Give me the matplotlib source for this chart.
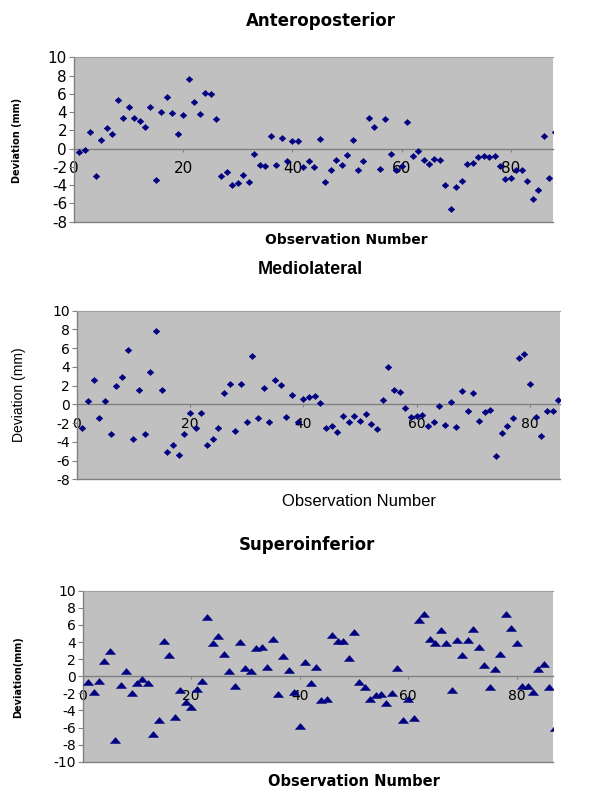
import matplotlib
matplotlib.use("Agg")
import matplotlib.pyplot as plt
import numpy as np

# ---- data ----
ap_values = [-0.37, -0.19, 1.78, -3.03, 0.91, 2.22, 1.57, 5.29, 3.39, 4.56,
             3.39, 3.03, 2.37, 4.56, -3.4, 4.05, 5.65, 3.87, 1.57, 3.65,
             7.66, 5.1, 3.76, 6.13, 5.95, 3.21, -3.03, -2.56, -4.02, -3.76,
             -2.92, -3.65, -0.59, -1.83, -1.94, 1.38, -1.76, 1.13, -1.35, 0.87,
             0.8, -1.97, -1.35, -1.97, 1.1, -3.65, -2.3, -1.2, -1.75, -0.7,
             0.95, -2.3, -1.32, 3.32, 2.41, -2.19, 3.21, -0.59, -2.38, -1.94,
             2.95, -0.77, -0.3, -1.2, -1.65, -1.1, -1.28, -3.95, -6.57, -4.2,
             -3.58, -1.68, -1.57, -0.95, -0.77, -0.91, -0.84, -1.94, -3.36, -3.21,
             -2.34, -2.3, -3.54, -5.55, -4.57, 1.42, -3.18, 1.78]

ml_values = [-2.53, 0.32, 2.6, -1.46, 0.39, -3.13, 1.92, 2.95, 5.8, -3.66,
             1.53, -3.13, 3.49, 7.79, 1.53, -5.09, -4.3, -5.44, -3.13, -0.92,
             -2.53, -0.92, -4.3, -3.74, -2.53, 1.21, 2.2, -2.88, 2.2, -1.89,
             5.2, -1.42, 1.74, -1.85, 2.6, 2.03, -1.35, 0.96, -1.89, 0.53,
             0.75, 0.85, 0.18, -2.56, -2.35, -2.92, -1.25, -1.92, -1.25, -1.78,
             -1.0, -2.1, -2.67, 0.43, 3.95, 1.53, 1.28, -0.36, -1.39, -1.28,
             -1.1, -2.35, -1.89, -0.14, -2.2, 0.21, -2.46, 1.42, -0.68, 1.17,
             -1.78, -0.78, -0.64, -5.51, -3.02, -2.35, -1.46, 5.0, 5.4, 2.17,
             -1.35, -3.35, -0.68, -0.68, 0.5, 1.7]

si_values = [-0.62, -1.79, -0.51, 1.79, 2.92, -7.43, -1.01, 0.62, -1.98, -0.74,
             -0.27, -0.78, -6.73, -5.1, 4.12, 2.45, -4.78, -1.67, -3.07, -3.62,
             -1.52, -0.55, 6.96, 3.89, 4.67, 2.6, 0.62, -1.13, 3.97, 0.97,
             0.62, 3.27, 3.38, 1.09, 4.32, -2.06, 2.41, 0.78, -1.79, -5.8,
             1.67, -0.82, 1.09, -2.8, -2.68, 4.78, 4.12, 4.12, 2.14, 5.21,
             -0.62, -1.21, -2.65, -2.22, -2.14, -3.15, -1.98, 0.97, -5.1, -2.68,
             -4.86, 6.53, 7.31, 4.32, 3.89, 5.37, 3.89, -1.56, 4.2, 2.49,
             4.2, 5.48, 3.38, 1.32, -1.25, 0.86, 2.6, 7.31, 5.6, 3.89,
             -1.13, -1.17, -1.83, 0.86, 1.44, -1.21, -6.03]

x_ticks = [0, 20, 40, 60, 80]
y_ticks_ap = [-8, -6, -4, -2, 0, 2, 4, 6, 8, 10]
y_ticks_ml = [-8, -6, -4, -2, 0, 2, 4, 6, 8, 10]
y_ticks_si = [-10, -8, -6, -4, -2, 0, 2, 4, 6, 8, 10]
titles = ["Anteroposterior", "Mediolateral", "Superoinferior"]

# ---- styles ----
W, H = 600, 800
NAVY = "#000080"
PLOT_BG = "#C0C0C0"
GRAY = "#808080"
diamond = [(-1, 0), (0, 0.9), (1, 0), (0, -0.9), (-1, 0)]
triangle = [(-1, -0.58), (1, -0.58), (0, 0.58), (-1, -0.58)]

fig = plt.figure(figsize=(6, 8), dpi=100)


def px_rect(left, right, top, bottom):
    return [left / W, 1 - bottom / H, (right - left) / W, (bottom - top) / H]


def fx(x):
    return x / W


def fy(y):
    return 1 - y / H


def make_panel(rect, values, yticks, ylim, xmax, marker, msize, tick_fs):
    ax = fig.add_axes(rect)
    ax.set_facecolor(PLOT_BG)
    xs = np.arange(1, len(values) + 1)
    ax.plot(xs, values, linestyle="none", marker=marker, markersize=msize,
            markerfacecolor=NAVY, markeredgecolor=NAVY, markeredgewidth=0.4,
            clip_on=True, zorder=3)
    ax.set_xlim(0, xmax)
    ax.set_ylim(*ylim)
    ax.set_xticks(x_ticks)
    ax.set_yticks(yticks)
    ax.set_xticklabels([str(t) for t in x_ticks])
    ax.set_yticklabels([str(t) for t in yticks])
    ax.spines["bottom"].set_position(("data", 0))
    ax.spines["bottom"].set_color(GRAY)
    ax.spines["bottom"].set_linewidth(1.0)
    ax.spines["left"].set_color(GRAY)
    ax.spines["left"].set_linewidth(1.0)
    ax.spines["top"].set_color("#A0A0A0")
    ax.spines["top"].set_linewidth(0.8)
    ax.spines["right"].set_visible(False)
    ax.axhline(ylim[0], color=GRAY, linewidth=1.0, clip_on=False, zorder=2)
    ax.tick_params(axis="x", direction="out", length=2.2, width=0.8,
                   color=GRAY, pad=7, labelsize=tick_fs, labelcolor="black")
    ax.tick_params(axis="y", direction="out", length=3.5, width=0.8,
                   color=GRAY, pad=1.5, labelsize=tick_fs, labelcolor="black")
    for lab in ax.get_xticklabels() + ax.get_yticklabels():
        lab.set_fontfamily("DejaVu Sans")
    return ax


# Panel 1: Anteroposterior
make_panel(px_rect(74, 553, 57.3, 221.7), ap_values, y_ticks_ap, (-8, 10),
           87.7, diamond, 4.8, 11)
fig.text(fx(320.5), fy(21), titles[0], ha="center", va="center",
         fontsize=12, fontweight="bold", family="DejaVu Sans")
fig.text(fx(346), fy(240), "Observation Number", ha="center", va="center",
         fontsize=10, fontweight="bold", family="DejaVu Sans")
fig.text(fx(16.7), fy(140), "Deviation (mm)", ha="center", va="center",
         rotation=90, fontsize=7, fontweight="bold", family="DejaVu Sans")

# Panel 2: Mediolateral
make_panel(px_rect(76.7, 560, 310.7, 479.3), ml_values, y_ticks_ml, (-8, 10),
           85.3, diamond, 4.8, 10)
fig.text(fx(310), fy(270), titles[1], ha="center", va="center",
         fontsize=13, fontweight="bold", family="Liberation Sans")
fig.text(fx(358.7), fy(501), "Observation Number", ha="center", va="center",
         fontsize=12, family="Liberation Sans")
fig.text(fx(18.7), fy(395), "Deviation (mm)", ha="center", va="center",
         rotation=90, fontsize=10, family="Liberation Sans")

# Panel 3: Superoinferior
make_panel(px_rect(82.7, 553.3, 590.7, 761.7), si_values, y_ticks_si, (-10, 10),
           86.75, triangle, 7.2, 10)
fig.text(fx(307), fy(545), titles[2], ha="center", va="center",
         fontsize=12, fontweight="bold", family="DejaVu Sans")
fig.text(fx(354), fy(781), "Observation Number", ha="center", va="center",
         fontsize=10.5, fontweight="bold", family="DejaVu Sans")
fig.text(fx(17.7), fy(676.7), "Deviation(mm)", ha="center", va="center",
         rotation=90, fontsize=7, fontweight="bold", family="DejaVu Sans")

fig.savefig("out.png", dpi=100, facecolor="white")
